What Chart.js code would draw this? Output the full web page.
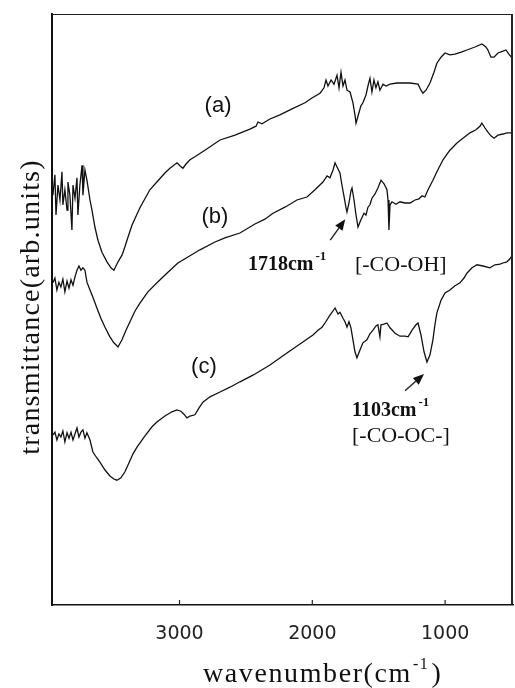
<!DOCTYPE html>
<html><head><meta charset="utf-8">
<style>html,body{margin:0;padding:0;background:#fff}canvas{display:block}</style>
<script src="https://cdn.jsdelivr.net/npm/chart.js@4"></script>
</head><body>
<canvas id="c" width="515" height="688"></canvas>
<script>
// wavenumber (cm^-1) and transmittance (arb. units)
const waveA = [3953,3938,3930,3915,3900,3885,3878,3863,3847,3840,3825,3810,3802,3787,3772,3765,3750,3734,3727,3712,3697,3674,3659,3637,3614,3584,3546,3516,3494,3463,3433,3411,3388,3358,3298,3223,3162,3110,3072,3019,2997,2974,2951,2921,2884,2809,2695,2582,2470,2424,2409,2379,2319,2244,2153,2055,2003,1942,1912,1897,1882,1859,1837,1814,1799,1784,1769,1754,1739,1716,1694,1679,1671,1656,1634,1619,1596,1581,1566,1551,1536,1521,1506,1491,1468,1445,1415,1362,1264,1204,1182,1167,1144,1114,1084,1062,1031,1001,964,926,873,836,775,723,693,678,655,632,602,565,542,520,497];
const transA = [68.3,71.7,65.0,70.0,67.5,72.2,66.7,69.2,65.8,70.5,68.3,62.5,70.0,67.8,71.2,65.0,70.0,73.3,68.3,72.5,70.8,67.5,65.8,63.0,60.8,58.8,57.2,56.2,55.8,57.2,58.3,59.7,61.3,63.3,66.2,69.2,70.7,72.0,72.8,73.7,73.2,72.8,73.5,74.2,74.7,75.8,77.5,78.3,79.3,79.8,80.5,80.2,81.0,81.7,82.7,83.7,84.5,85.3,86.2,87.5,86.5,87.5,86.8,88.3,86.2,88.8,86.5,87.5,85.8,85.5,83.7,81.7,80.3,81.5,83.2,83.7,85.0,86.5,87.8,85.5,87.5,86.2,87.2,85.8,86.8,86.5,86.8,87.0,87.0,86.8,85.8,85.3,85.8,87.0,88.8,90.3,91.3,92.0,91.7,91.8,92.2,92.5,93.0,93.5,93.0,92.5,91.3,91.3,92.0,92.3,92.5,91.8,91.2];

const waveB = [3953,3938,3923,3908,3893,3878,3863,3847,3832,3817,3802,3787,3772,3757,3742,3727,3712,3697,3674,3652,3622,3592,3561,3524,3494,3463,3433,3403,3373,3335,3298,3238,3170,3095,3012,2921,2846,2733,2658,2545,2432,2357,2296,2206,2116,2040,1980,1920,1889,1867,1844,1829,1814,1792,1777,1762,1747,1739,1724,1709,1701,1686,1671,1656,1634,1611,1596,1581,1566,1551,1528,1506,1483,1460,1438,1430,1423,1415,1400,1370,1340,1302,1264,1227,1197,1174,1152,1129,1092,1062,1039,1016,964,911,866,813,768,738,723,700,678,655,632,602,565,535,497];
const transB = [53.7,54.5,52.5,53.8,53.0,54.3,52.2,54.0,52.8,54.2,53.3,54.7,55.8,56.5,55.8,56.2,55.8,53.8,52.5,51.3,49.5,47.8,46.3,44.7,43.7,43.0,44.2,45.8,47.2,49.0,50.3,52.2,53.7,55.3,57.0,58.2,59.2,60.5,61.2,62.0,63.5,64.3,65.3,66.3,67.5,68.0,69.2,70.5,71.5,71.2,72.5,73.7,73.0,72.0,70.0,68.2,66.3,65.5,67.0,69.0,69.5,67.5,65.0,63.0,64.2,65.3,65.0,66.3,66.7,67.8,68.5,69.5,70.8,70.2,69.2,67.5,62.5,66.7,67.2,66.8,67.2,67.0,67.0,67.5,67.7,68.2,68.0,69.2,70.8,72.2,73.2,74.2,75.8,77.0,77.8,78.7,79.2,79.8,80.3,79.5,78.8,78.2,77.8,78.3,78.5,78.7,78.7];

const waveC = [3953,3938,3923,3908,3893,3878,3863,3847,3832,3817,3802,3787,3772,3757,3742,3727,3712,3697,3674,3652,3622,3599,3561,3524,3494,3471,3441,3411,3380,3350,3320,3260,3207,3170,3110,3057,3019,2989,2967,2944,2921,2884,2854,2824,2771,2695,2620,2545,2447,2319,2191,2093,1995,1957,1927,1905,1867,1844,1829,1807,1792,1769,1754,1739,1724,1709,1694,1679,1664,1641,1619,1589,1566,1543,1521,1506,1491,1483,1460,1438,1415,1377,1340,1302,1279,1249,1219,1204,1182,1159,1137,1114,1092,1077,1062,1031,1001,964,926,888,858,836,798,760,715,663,625,587,565,535,512,497];
const transC = [28.3,28.8,27.5,28.5,28.0,29.0,27.2,28.7,27.8,28.8,27.5,28.5,29.5,28.0,28.8,29.2,27.8,28.7,27.5,25.5,24.5,23.8,22.5,21.5,21.0,20.8,21.2,22.2,23.7,25.2,26.3,28.2,29.7,30.5,31.5,32.2,32.5,32.3,31.8,31.2,31.5,31.7,32.8,33.8,34.7,35.5,36.3,37.2,38.3,40.0,42.0,43.5,45.0,45.8,46.3,47.0,48.3,49.0,49.5,48.5,48.8,47.8,47.2,46.3,47.2,46.2,44.2,42.2,41.2,42.5,43.7,44.2,45.2,45.8,46.5,46.7,44.7,46.7,46.8,47.0,46.2,45.3,44.8,44.8,44.7,45.8,46.7,47.0,45.0,42.2,40.5,41.7,44.2,46.7,48.7,50.8,52.0,52.5,53.2,53.7,54.5,55.3,56.2,56.7,56.5,56.2,56.7,56.8,57.0,57.2,57.7,58.2];

const tickValues = [3000, 2000, 1000];
const tickLabels = ['3000', '2000', '1000'];
const seriesLabels = ['(a)', '(b)', '(c)'];
const xTitle = 'wavenumber(cm';
const yTitle = 'transmittance(arb.units)';

function pts(w, t) { return w.map((v, i) => ({ x: v, y: t[i] })); }

const ds = (w, t, label) => ({
  label, data: pts(w, t), showLine: true, borderColor: '#111', borderWidth: 1.3,
  pointRadius: 0, tension: 0, fill: false
});

const annot = {
  id: 'annot',
  afterDraw(chart) {
    const { ctx, chartArea: a, scales: { x, y } } = chart;
    const X = v => x.getPixelForValue(v), Y = v => y.getPixelForValue(v);
    ctx.save();
    // frame top/right
    ctx.strokeStyle = '#222';
    ctx.lineWidth = 1;
    ctx.beginPath(); ctx.moveTo(a.left, a.top + 0.5); ctx.lineTo(a.right, a.top + 0.5); ctx.stroke();
    ctx.lineWidth = 2;
    ctx.beginPath(); ctx.moveTo(a.right - 1, a.top); ctx.lineTo(a.right - 1, a.bottom); ctx.stroke();
    // inward ticks
    ctx.lineWidth = 1.2;
    x.ticks.forEach(t => {
      const px = X(t.value);
      ctx.beginPath(); ctx.moveTo(px, a.bottom); ctx.lineTo(px, a.bottom - 5); ctx.stroke();
    });
    ctx.fillStyle = '#111';
    // series labels
    ctx.font = '22px "Liberation Sans", Arial, sans-serif';
    ctx.textAlign = 'center'; ctx.textBaseline = 'middle';
    const lp = [[2710, 83.2], [2733, 64.7], [2816, 39.7]];
    seriesLabels.forEach((s, i) => ctx.fillText(s, X(lp[i][0]), Y(lp[i][1])));
    // peak annotations
    ctx.textAlign = 'left'; ctx.textBaseline = 'alphabetic';
    const sup = (txt, sx, sy) => {
      ctx.font = 'bold 20px "Liberation Serif", serif';
      ctx.fillText(txt, sx, sy);
      const w = ctx.measureText(txt).width;
      ctx.font = 'bold 13px "Liberation Serif", serif';
      ctx.fillText('-1', sx + w + 2, sy - 10);
    };
    sup('1718cm', X(2485), Y(55.8));
    sup('1103cm', X(1701), Y(31.5));
    ctx.font = '22px "Liberation Serif", serif';
    ctx.fillText('[-CO-OH]', X(1679), Y(55.7));
    ctx.fillText('[-CO-OC-]', X(1701), Y(27.2));
    // arrows
    const arrow = (x0, y0, x1, y1) => {
      const ang = Math.atan2(y1 - y0, x1 - x0), L = 11, W = 4.5;
      const bx = x1 - L * Math.cos(ang), by = y1 - L * Math.sin(ang);
      ctx.lineWidth = 1.4;
      ctx.beginPath(); ctx.moveTo(x0, y0); ctx.lineTo(bx, by); ctx.stroke();
      ctx.beginPath(); ctx.moveTo(x1, y1);
      ctx.lineTo(bx + W * Math.sin(ang), by - W * Math.cos(ang));
      ctx.lineTo(bx - W * Math.sin(ang), by + W * Math.cos(ang));
      ctx.closePath(); ctx.fill();
    };
    arrow(X(1865), Y(60.8), X(1752), Y(64.3));
    arrow(X(1302), Y(35.7), X(1159), Y(38.5));
    // axis titles
    ctx.font = '28px "Liberation Serif", serif';
    ctx.letterSpacing = '1.6px';
    let tx = 203, ty = 682;
    ctx.fillText(xTitle, tx, ty);
    tx += ctx.measureText(xTitle).width;
    ctx.font = '16px "Liberation Serif", serif';
    ctx.fillText('-1', tx + 1, ty - 13);
    tx += ctx.measureText('-1').width + 3;
    ctx.font = '28px "Liberation Serif", serif';
    ctx.fillText(')', tx, ty);
    ctx.letterSpacing = '1.2px';
    ctx.translate(39, 307);
    ctx.rotate(-Math.PI / 2);
    ctx.textAlign = 'center';
    ctx.fillText(yTitle, 0, 0);
    ctx.restore();
  }
};

new Chart(document.getElementById('c'), {
  type: 'scatter',
  data: { datasets: [ds(waveA, transA, seriesLabels[0]), ds(waveB, transB, seriesLabels[1]), ds(waveC, transC, seriesLabels[2])] },
  options: {
    responsive: false, animation: false,
    layout: { padding: { top: 14, right: 2, left: 0, bottom: 0 } },
    plugins: { legend: { display: false }, tooltip: { enabled: false } },
    scales: {
      x: {
        type: 'linear', reverse: true, min: 489, max: 3960,
        grid: { display: false, drawTicks: false },
        border: { display: true, color: '#111', width: 1.5 },
        afterBuildTicks: s => { s.ticks = tickValues.map(v => ({ value: v })); },
        afterFit: s => { s.height = 83; },
        ticks: {
          padding: 18, color: '#222', autoSkip: false, maxRotation: 0,
          font: { family: '"DejaVu Sans", sans-serif', size: 19 },
          callback: (v, i) => tickLabels[i]
        }
      },
      y: {
        type: 'linear', min: 0, max: 98.5,
        grid: { display: false, drawTicks: false },
        border: { display: true, color: '#111', width: 2 },
        ticks: { display: false },
        afterFit: s => { s.width = 52; }
      }
    }
  },
  plugins: [annot]
});
</script>
</body></html>
